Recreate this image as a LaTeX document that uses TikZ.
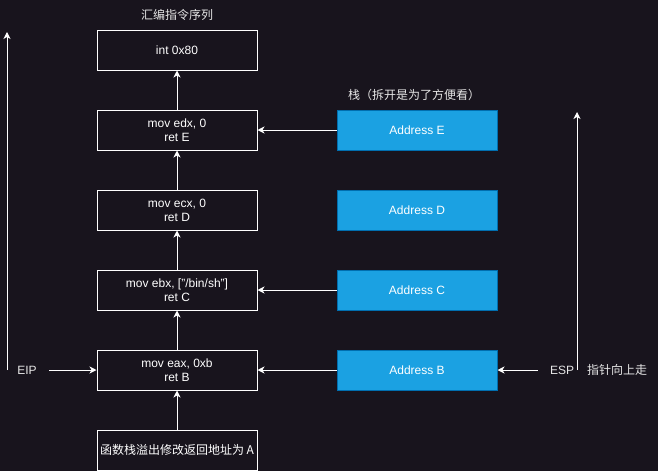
\documentclass[tikz,border=0pt]{standalone}
\usepackage{fontspec}
\setmainfont{Liberation Sans}
\newfontfamily\cjk{Noto Sans CJK SC}
\usetikzlibrary{arrows.meta}
\definecolor{bgdark}{HTML}{18141D}
\definecolor{stackblue}{HTML}{1BA1E2}
\definecolor{stackedge}{HTML}{006EAF}
\definecolor{labelgrey}{HTML}{E6E6E6}
\tikzset{
  insbox/.style={draw=white, line width=1pt, minimum width=160pt, minimum height=40pt, inner sep=0pt, align=center, text=white, font=\fontsize{12}{14}\selectfont},
  stackbox/.style={insbox, draw=stackedge, fill=stackblue},
  lbl/.style={text=labelgrey, inner sep=0pt, font=\fontsize{12}{14}\selectfont},
  arr/.style={draw=white, line width=1pt, -{Stealth[length=7pt,width=7pt,inset=2pt]}}
}
\begin{document}
\begin{tikzpicture}[x=1pt, y=-1pt]
\fill[bgdark] (0,0) rectangle (658,471);
\useasboundingbox (0,0) rectangle (658,471);
% instruction sequence
\node[lbl] (t1) at (177,15) {\cjk 汇编指令序列};
\node[insbox] (i0) at (177,50) {int 0x80};
\node[insbox] (i1) at (177,130) {mov edx, 0\\ret E};
\node[insbox] (i2) at (177,210) {mov ecx, 0\\ret D};
\node[insbox] (i3) at (177,290) {mov ebx, ["/bin/sh"]\\ret C};
\node[insbox] (i4) at (177,370) {mov eax, 0xb\\ret B};
\node[insbox] (i5) at (177,450) {\cjk 函数栈溢出修改返回地址为 A};
\draw[arr] (i5) -- (i4);
\draw[arr] (i4) -- (i3);
\draw[arr] (i3) -- (i2);
\draw[arr] (i2) -- (i1);
\draw[arr] (i1) -- (i0);
% stack
\node[lbl] (t2) at (414,95) {\cjk 栈（拆开是为了方便看）};
\node[stackbox] (s1) at (417,130) {Address E};
\node[stackbox] (s2) at (417,210) {Address D};
\node[stackbox] (s3) at (417,290) {Address C};
\node[stackbox] (s4) at (417,370) {Address B};
\draw[arr] (s1) -- (i1);
\draw[arr] (s3) -- (i3);
\draw[arr] (s4) -- (i4);
% EIP
\coordinate (eipbot) at (7,370);
\coordinate (eiptop) at (7,32);
\coordinate (eipstart) at (49,370);
\node[lbl] (eip) at (27,370) {EIP};
\draw[arr] (eipbot) -- (eiptop);
\draw[arr] (eipstart) -- (i4);
% ESP
\coordinate (espbot) at (577,370);
\coordinate (esptop) at (577,112);
\coordinate (espstart) at (538,370);
\node[lbl] (esp) at (562,370) {ESP};
\node[lbl] (up) at (617,370) {\cjk 指针向上走};
\draw[arr] (espbot) -- (esptop);
\draw[arr] (espstart) -- (s4);
\end{tikzpicture}
\end{document}
